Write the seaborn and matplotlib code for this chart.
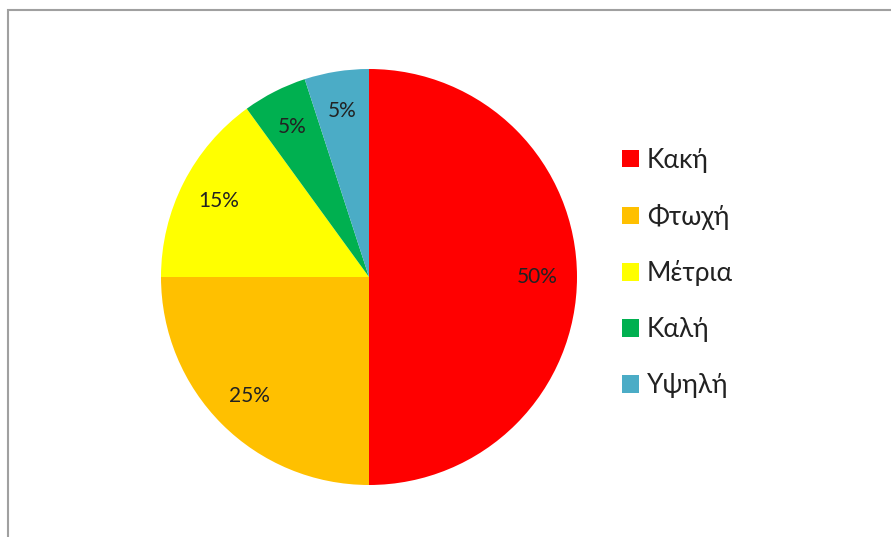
import matplotlib
matplotlib.use("Agg")
import matplotlib.pyplot as plt
import seaborn as sns
from matplotlib.patches import Patch, Rectangle

categories = ["Κακή", "Φτωχή", "Μέτρια", "Καλή", "Υψηλή"]
values = [50, 25, 15, 5, 5]
colors = ["#FF0000", "#FFC000", "#FFFF00", "#00B050", "#4BACC6"]

sns.set_theme(style="white")
plt.rcParams['font.family'] = ['Lato', 'Noto Sans', 'DejaVu Sans']

W, H = 891, 537
fig = plt.figure(figsize=(W / 100, H / 100), dpi=100)
fig.patch.set_facecolor("white")

cx, cy, r = 369, 277, 208
ax = fig.add_axes([(cx - r) / W, (H - cy - r) / H, 2 * r / W, 2 * r / H])
wedges, texts, autotexts = ax.pie(
    values, colors=colors, startangle=90, counterclock=False,
    autopct=lambda p: f"{p:.0f}%", pctdistance=0.81,
    textprops=dict(fontsize=15, color="#222222"),
    wedgeprops=dict(linewidth=0))
ax.set_xlim(-1, 1)
ax.set_ylim(-1, 1)
ax.set_aspect("equal")
ax.axis("off")

handles = [Patch(facecolor=c, edgecolor="none") for c in colors]
leg = fig.legend(handles, categories, loc="upper left",
                 bbox_to_anchor=(598 / W, 1 - 124 / H), frameon=False,
                 fontsize=19, handlelength=0.65, handleheight=0.65,
                 handletextpad=0.3, labelspacing=1.17)
for t in leg.get_texts():
    t.set_color("#222222")

border = Rectangle((8 / W, -0.05), 1.1, 1 - 10 / H + 0.05, transform=fig.transFigure,
                   fill=False, edgecolor="#A0A0A0", linewidth=1.5)
fig.patches.append(border)

fig.savefig("out.png", dpi=100)
